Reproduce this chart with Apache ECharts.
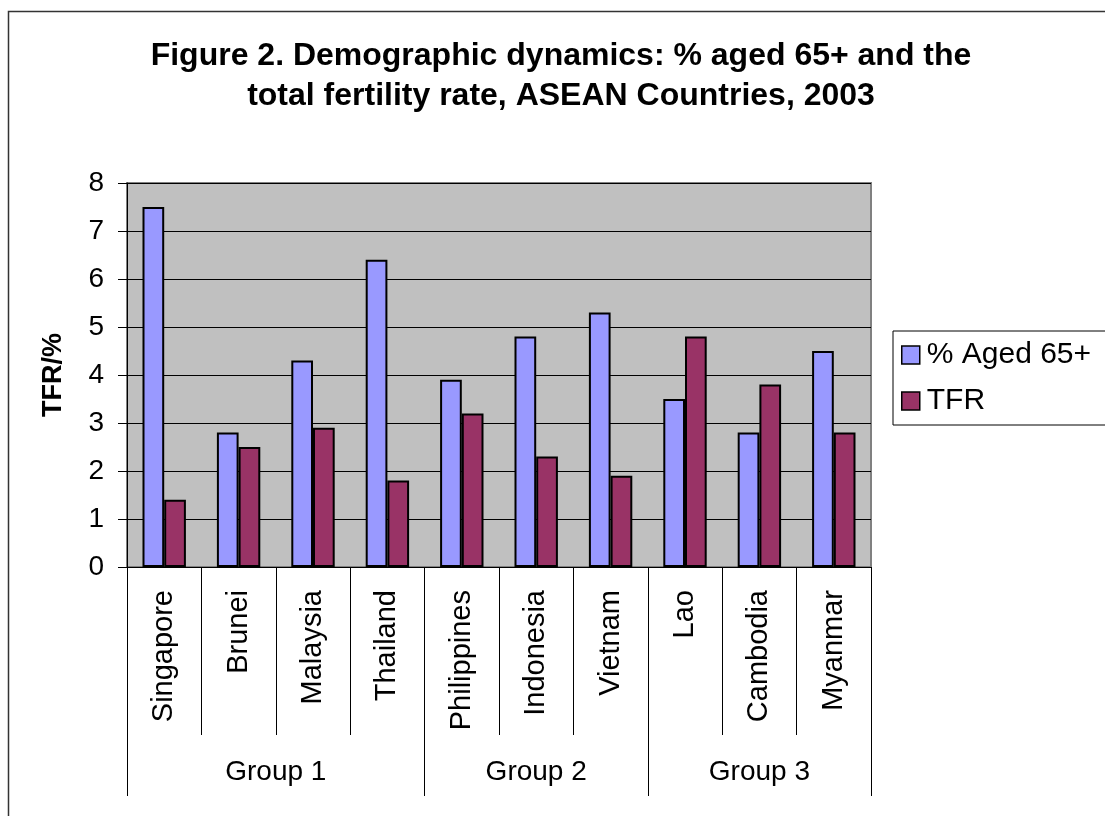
<!DOCTYPE html>
<html>
<head>
<meta charset="utf-8">
<title>Demographic dynamics, ASEAN 2003</title>
<script src="https://cdn.jsdelivr.net/npm/echarts@6/dist/echarts.min.js"></script>
<style>
  html, body { margin: 0; padding: 0; background: #fff; }
  #chart { width: 1105px; height: 816px; }
</style>
</head>
<body>
<div id="chart"></div>
<script>
var countries = ['Singapore', 'Brunei', 'Malaysia', 'Thailand', 'Philippines',
  'Indonesia', 'Vietnam', 'Lao', 'Cambodia', 'Myanmar'];
var aged65 = [7.5, 2.8, 4.3, 6.4, 3.9, 4.8, 5.3, 3.5, 2.8, 4.5];
var tfr = [1.4, 2.5, 2.9, 1.8, 3.2, 2.3, 1.9, 4.8, 3.8, 2.8];
var groupNames = ['Group 1', 'Group 2', 'Group 3'];
var groupSizes = [4, 3, 3];
var yTicks = [0, 1, 2, 3, 4, 5, 6, 7, 8];

var font = "'Liberation Sans', Arial, sans-serif";

// group borders and centers, in category units
var groupEdges = [0];
var groupCenters = [];
for (var i = 0; i < groupSizes.length; i++) {
  var start = groupEdges[groupEdges.length - 1];
  groupCenters.push(start + groupSizes[i] / 2);
  groupEdges.push(start + groupSizes[i]);
}
// category borders, used for the short separators
var catEdges = [];
for (var j = 0; j <= countries.length; j++) catEdges.push(j);

var chart = echarts.init(document.getElementById('chart'));

var option = {
  backgroundColor: '#fff',
  animation: false,
  textStyle: { fontFamily: font },
  title: {
    text: 'Figure 2. Demographic dynamics: % aged 65+ and the\ntotal fertility rate, ASEAN Countries, 2003',
    left: 556,
    top: 31,
    textAlign: 'center',
    textStyle: {
      fontFamily: font,
      fontSize: 32,
      fontWeight: 'bold',
      color: '#000',
      lineHeight: 40
    }
  },
  legend: {
    orient: 'vertical',
    left: 893,
    top: 331,
    padding: [9, 30, 9, 8],
    itemGap: 16,
    itemWidth: 18,
    itemHeight: 18,
    icon: 'rect',
    backgroundColor: '#fff',
    borderColor: '#000',
    borderWidth: 1,
    borderRadius: 0,
    itemStyle: { borderColor: '#000', borderWidth: 1.5 },
    textStyle: { fontFamily: font, fontSize: 30, color: '#000', padding: [0, 0, 0, 2] },
    data: ['% Aged 65+', 'TFR']
  },
  grid: {
    left: 127,
    right: 234,
    top: 183,
    bottom: 249,
    show: true,
    backgroundColor: '#C0C0C0',
    borderColor: '#808080',
    borderWidth: 2
  },
  xAxis: [
    {
      type: 'category',
      data: countries,
      axisLine: { show: true, lineStyle: { color: '#000', width: 1 } },
      axisTick: { show: false },
      axisLabel: {
        interval: 0,
        rotate: 90,
        margin: 23,
        fontFamily: font,
        fontSize: 29,
        color: '#000'
      }
    },
    {
      // short separators between countries
      type: 'value',
      min: 0,
      max: countries.length,
      position: 'bottom',
      axisLine: { show: false },
      splitLine: { show: false },
      axisTick: {
        show: true,
        customValues: catEdges,
        length: 168,
        lineStyle: { color: '#000', width: 1 }
      },
      axisLabel: { show: false }
    },
    {
      // long separators and names of the groups
      type: 'value',
      min: 0,
      max: countries.length,
      position: 'bottom',
      axisLine: { show: false },
      splitLine: { show: false },
      axisTick: {
        show: true,
        customValues: groupEdges,
        length: 229,
        lineStyle: { color: '#000', width: 1 }
      },
      axisLabel: {
        customValues: groupCenters,
        margin: 191,
        fontFamily: font,
        fontSize: 28,
        color: '#000',
        formatter: function (v) {
          var k = groupCenters.indexOf(v);
          return k >= 0 ? groupNames[k] : '';
        }
      }
    }
  ],
  yAxis: {
    type: 'value',
    min: yTicks[0],
    max: yTicks[yTicks.length - 1],
    interval: 1,
    name: 'TFR/%',
    nameLocation: 'middle',
    nameGap: 60,
    nameTextStyle: { fontFamily: font, fontSize: 27, fontWeight: 'bold', color: '#000' },
    axisLine: { show: true, lineStyle: { color: '#000', width: 1 } },
    axisTick: { show: true, length: 9, lineStyle: { color: '#000' } },
    axisLabel: { margin: 23, fontFamily: font, fontSize: 28, color: '#000' },
    splitLine: { lineStyle: { color: '#000', width: 1 } }
  },
  series: [
    {
      name: '% Aged 65+',
      type: 'bar',
      xAxisIndex: 0,
      barWidth: 21.7,
      barGap: '0%',
      itemStyle: { color: '#9999FF', borderColor: '#000', borderWidth: 2 },
      data: aged65
    },
    {
      name: 'TFR',
      type: 'bar',
      xAxisIndex: 0,
      barWidth: 21.7,
      barGap: '0%',
      itemStyle: { color: '#993366', borderColor: '#000', borderWidth: 2 },
      data: tfr
    }
  ],
  graphic: [
    {
      type: 'rect',
      left: 6,
      top: 9,
      silent: true,
      shape: { width: 1200, height: 1000 },
      style: { fill: 'none', stroke: '#333', lineWidth: 1.5 },
      z: 100
    }
  ]
};

chart.setOption(option);
</script>
</body>
</html>
